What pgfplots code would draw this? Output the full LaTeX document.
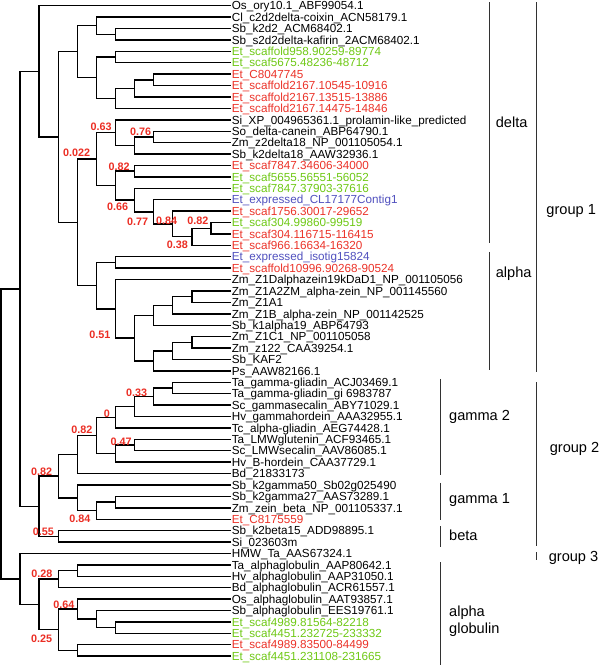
\documentclass[border=0pt]{standalone}
\usepackage{pgfplots}
\pgfplotsset{compat=1.18}
\usepackage{fontspec}
\setmainfont{Liberation Sans}
\definecolor{etred}{RGB}{235,50,40}
\definecolor{etgreen}{RGB}{110,200,20}
\definecolor{etblue}{RGB}{80,80,190}
\definecolor{bsred}{RGB}{235,45,35}
\definecolor{brk}{RGB}{50,50,50}
\tikzset{
  br/.style={black, line width=1.4bp, mark=none, line join=miter, line cap=rect},
  bk/.style={brk, line width=1bp, mark=none},
  leaf/.style={anchor=base west, inner sep=0pt, yshift=-4.2bp, font=\fontsize{11.7bp}{14bp}\selectfont},
  bs/.style={anchor=center, inner sep=0pt, text=bsred, font=\fontsize{10.8bp}{13bp}\selectfont\bfseries},
  grp/.style={anchor=base west, inner sep=0pt, yshift=-5.2bp, font=\fontsize{14.6bp}{17bp}\selectfont},
}
\begin{document}
\begin{tikzpicture}
\begin{axis}[
  scale only axis, width=600bp, height=665bp,
  xmin=0, xmax=600, ymin=-0.5, ymax=57.73, y dir=reverse,
  hide axis, clip=false,
]
\path (axis cs:0,-0.5) rectangle (axis cs:600,57.73);
% ---- delta
\addplot[br] coordinates {(230.2,2)(115.6,2)(115.6,3)(230.2,3)};
\addplot[br] coordinates {(230.2,1)(96.5,1)(96.5,2.5)(115.6,2.5)};
\addplot[br] coordinates {(230.2,4)(115.6,4)(115.6,5)(230.2,5)};
\addplot[br] coordinates {(230.2,6)(153.8,6)(153.8,7)(230.2,7)};
\addplot[br] coordinates {(153.8,6.5)(134.7,6.5)(134.7,8)(230.2,8)};
\addplot[br] coordinates {(134.7,7.25)(115.6,7.25)(115.6,9)(230.2,9)};
\addplot[br] coordinates {(115.6,4.5)(96.5,4.5)(96.5,8.125)(115.6,8.125)};
\addplot[br] coordinates {(96.5,1.75)(77.4,1.75)(77.4,6.3125)(96.5,6.3125)};
% ---- 0.022 clade
\addplot[br] coordinates {(230.2,11)(153.8,11)(153.8,12)(230.2,12)};
\addplot[br] coordinates {(153.8,11.5)(134.7,11.5)(134.7,13)(230.2,13)};
\addplot[br] coordinates {(230.2,10)(115.6,10)(115.6,12.25)(134.7,12.25)};
\addplot[br] coordinates {(230.2,14)(134.7,14)(134.7,15)(230.2,15)};
\addplot[br] coordinates {(230.2,19)(211.1,19)(211.1,20)(230.2,20)};
\addplot[br] coordinates {(211.1,19.5)(192.0,19.5)(192.0,21)(230.2,21)};
\addplot[br] coordinates {(230.2,18)(172.9,18)(172.9,20.25)(192.0,20.25)};
\addplot[br] coordinates {(230.2,17)(153.8,17)(153.8,19.125)(172.9,19.125)};
\addplot[br] coordinates {(230.2,16)(134.7,16)(134.7,18.0625)(153.8,18.0625)};
\addplot[br] coordinates {(134.7,14.5)(115.6,14.5)(115.6,17.03125)(134.7,17.03125)};
\addplot[br] coordinates {(115.6,11.125)(96.5,11.125)(96.5,15.765625)(115.6,15.765625)};
% ---- alpha
\addplot[br] coordinates {(230.2,22)(115.6,22)(115.6,23)(230.2,23)};
\addplot[br] coordinates {(230.2,25)(192.0,25)(192.0,26)(230.2,26)};
\addplot[br] coordinates {(192.0,25.5)(172.9,25.5)(172.9,27)(230.2,27)};
\addplot[br] coordinates {(172.9,26.25)(153.8,26.25)(153.8,28)(230.2,28)};
\addplot[br] coordinates {(230.2,29)(192.0,29)(192.0,30)(230.2,30)};
\addplot[br] coordinates {(192.0,29.5)(172.9,29.5)(172.9,31)(230.2,31)};
\addplot[br] coordinates {(172.9,30.25)(153.8,30.25)(153.8,32)(230.2,32)};
\addplot[br] coordinates {(153.8,27.125)(134.7,27.125)(134.7,31.125)(153.8,31.125)};
\addplot[br] coordinates {(230.2,24)(115.6,24)(115.6,29.125)(134.7,29.125)};
\addplot[br] coordinates {(115.6,22.5)(96.5,22.5)(96.5,26.5625)(115.6,26.5625)};
\addplot[br] coordinates {(96.5,13.4453)(77.4,13.4453)(77.4,24.53125)(96.5,24.53125)};
\addplot[br] coordinates {(77.4,4.03125)(58.3,4.03125)(58.3,18.98828)(77.4,18.98828)};
\addplot[br] coordinates {(230.2,0)(39.2,0)(39.2,11.50977)(58.3,11.50977)};
% ---- group 2
\addplot[br] coordinates {(230.2,33)(172.9,33)(172.9,34)(230.2,34)};
\addplot[br] coordinates {(172.9,33.5)(153.8,33.5)(153.8,35)(230.2,35)};
\addplot[br] coordinates {(153.8,34.25)(134.7,34.25)(134.7,36)(230.2,36)};
\addplot[br] coordinates {(134.7,35.125)(115.6,35.125)(115.6,37)(230.2,37)};
\addplot[br] coordinates {(230.2,38)(134.7,38)(134.7,39)(230.2,39)};
\addplot[br] coordinates {(134.7,38.5)(115.6,38.5)(115.6,40)(230.2,40)};
\addplot[br] coordinates {(115.6,36.0625)(96.5,36.0625)(96.5,39.25)(115.6,39.25)};
\addplot[br] coordinates {(96.5,37.65625)(77.4,37.65625)(77.4,41)(230.2,41)};
\addplot[br] coordinates {(230.2,43)(115.6,43)(115.6,44)(230.2,44)};
\addplot[br] coordinates {(115.6,43.5)(96.5,43.5)(96.5,45)(230.2,45)};
\addplot[br] coordinates {(230.2,42)(77.4,42)(77.4,44.25)(96.5,44.25)};
\addplot[br] coordinates {(77.4,39.328125)(58.3,39.328125)(58.3,43.125)(77.4,43.125)};
\addplot[br] coordinates {(230.2,46)(58.3,46)(58.3,47)(230.2,47)};
\addplot[br] coordinates {(58.3,41.2265625)(39.2,41.2265625)(39.2,46.5)(58.3,46.5)};
\addplot[br] coordinates {(39.2,5.75488)(20.1,5.75488)(20.1,43.86328)(39.2,43.86328)};
% ---- globulins
\addplot[br] coordinates {(230.2,49)(77.4,49)(77.4,50)(230.2,50)};
\addplot[br] coordinates {(77.4,49.5)(58.3,49.5)(58.3,51)(230.2,51)};
\addplot[br] coordinates {(230.2,54)(115.6,54)(115.6,55)(230.2,55)};
\addplot[br] coordinates {(230.2,53)(96.5,53)(96.5,54.5)(115.6,54.5)};
\addplot[br] coordinates {(230.2,52)(77.4,52)(77.4,53.75)(96.5,53.75)};
\addplot[br] coordinates {(230.2,56)(77.4,56)(77.4,57)(230.2,57)};
\addplot[br] coordinates {(77.4,52.875)(58.3,52.875)(58.3,56.5)(77.4,56.5)};
\addplot[br] coordinates {(58.3,50.25)(39.2,50.25)(39.2,54.6875)(58.3,54.6875)};
\addplot[br] coordinates {(230.2,48)(20.1,48)(20.1,52.46875)(39.2,52.46875)};
\addplot[br] coordinates {(20.1,24.80908)(1.2,24.80908)(1.2,50.234375)(20.1,50.234375)};
% ---- brackets
\addplot[bk] coordinates {(490,-0.32)(490,20.78)};
\addplot[bk] coordinates {(490,21.57)(490,31.9)};
\addplot[bk] coordinates {(536.7,-0.32)(536.7,32.14)};
\addplot[bk] coordinates {(441.3,32.71)(441.3,41.16)};
\addplot[bk] coordinates {(441.3,41.82)(441.3,45.04)};
\addplot[bk] coordinates {(441.3,45.62)(441.3,47.43)};
\addplot[bk] coordinates {(441.3,48.77)(441.3,57.73)};
\addplot[bk] coordinates {(536.7,33.01)(536.7,47.37)};
\addplot[bk] coordinates {(536.7,47.9)(536.7,48.6)};
\node[grp] at (axis cs:496,10.25) {delta};
\node[grp] at (axis cs:496,23.32) {alpha};
\node[grp] at (axis cs:546.7,17.8) {group 1};
\node[grp] at (axis cs:449.3,35.93) {gamma 2};
\node[grp] at (axis cs:449.3,43.13) {gamma 1};
\node[grp] at (axis cs:449.3,46.44) {beta};
\node[grp] at (axis cs:449.3,53.07) {alpha};
\node[grp] at (axis cs:449.3,54.6) {globulin};
\node[grp] at (axis cs:550,38.67) {group 2};
\node[grp] at (axis cs:549,48.25) {group 3};
% ---- bootstrap values
\node[bs] at (axis cs:101.2,10.65) {0.63};
\node[bs] at (axis cs:140.8,11.09) {0.76};
\node[bs] at (axis cs:76.7,12.87) {0.022};
\node[bs] at (axis cs:119.3,14.10) {0.82};
\node[bs] at (axis cs:117.8,17.65) {0.66};
\node[bs] at (axis cs:137.8,18.97) {0.77};
\node[bs] at (axis cs:166.7,18.85) {0.84};
\node[bs] at (axis cs:198,18.85) {0.82};
\node[bs] at (axis cs:177.5,20.95) {0.38};
\node[bs] at (axis cs:100,28.84) {0.51};
\node[bs] at (axis cs:136.7,33.89) {0.33};
\node[bs] at (axis cs:107,35.78) {0};
\node[bs] at (axis cs:82,37.15) {0.82};
\node[bs] at (axis cs:121.2,38.18) {0.47};
\node[bs] at (axis cs:41.7,40.81) {0.82};
\node[bs] at (axis cs:80,44.97) {0.84};
\node[bs] at (axis cs:43.3,46.06) {0.55};
\node[bs] at (axis cs:42,49.76) {0.28};
\node[bs] at (axis cs:64,52.48) {0.64};
\node[bs] at (axis cs:41.7,55.48) {0.25};
% ---- leaf labels
\node[leaf] at (axis cs:231.8,0) {Os\_ory10.1\_ABF99054.1};
\node[leaf] at (axis cs:231.8,1) {Cl\_c2d2delta-coixin\_ACN58179.1};
\node[leaf] at (axis cs:231.8,2) {Sb\_k2d2\_ACM68402.1};
\node[leaf] at (axis cs:231.8,3) {Sb\_s2d2delta-kafirin\_2ACM68402.1};
\node[leaf,text=etgreen] at (axis cs:231.8,4) {Et\_scaffold958.90259-89774};
\node[leaf,text=etgreen] at (axis cs:231.8,5) {Et\_scaf5675.48236-48712};
\node[leaf,text=etred] at (axis cs:231.8,6) {Et\_C8047745};
\node[leaf,text=etred] at (axis cs:231.8,7) {Et\_scaffold2167.10545-10916};
\node[leaf,text=etred] at (axis cs:231.8,8) {Et\_scaffold2167.13515-13886};
\node[leaf,text=etred] at (axis cs:231.8,9) {Et\_scaffold2167.14475-14846};
\node[leaf] at (axis cs:231.8,10) {Si\_XP\_004965361.1\_prolamin-like\_predicted};
\node[leaf] at (axis cs:231.8,11) {So\_delta-canein\_ABP64790.1};
\node[leaf] at (axis cs:231.8,12) {Zm\_z2delta18\_NP\_001105054.1};
\node[leaf] at (axis cs:231.8,13) {Sb\_k2delta18\_AAW32936.1};
\node[leaf,text=etred] at (axis cs:231.8,14) {Et\_scaf7847.34606-34000};
\node[leaf,text=etgreen] at (axis cs:231.8,15) {Et\_scaf5655.56551-56052};
\node[leaf,text=etgreen] at (axis cs:231.8,16) {Et\_scaf7847.37903-37616};
\node[leaf,text=etblue] at (axis cs:231.8,17) {Et\_expressed\_CL17177Contig1};
\node[leaf,text=etred] at (axis cs:231.8,18) {Et\_scaf1756.30017-29652};
\node[leaf,text=etgreen] at (axis cs:231.8,19) {Et\_scaf304.99860-99519};
\node[leaf,text=etred] at (axis cs:231.8,20) {Et\_scaf304.116715-116415};
\node[leaf,text=etred] at (axis cs:231.8,21) {Et\_scaf966.16634-16320};
\node[leaf,text=etblue] at (axis cs:231.8,22) {Et\_expressed\_isotig15824};
\node[leaf,text=etred] at (axis cs:231.8,23) {Et\_scaffold10996.90268-90524};
\node[leaf] at (axis cs:231.8,24) {Zm\_Z1Dalphazein19kDaD1\_NP\_001105056};
\node[leaf] at (axis cs:231.8,25) {Zm\_Z1A2ZM\_alpha-zein\_NP\_001145560};
\node[leaf] at (axis cs:231.8,26) {Zm\_Z1A1};
\node[leaf] at (axis cs:231.8,27) {Zm\_Z1B\_alpha-zein\_NP\_001142525};
\node[leaf] at (axis cs:231.8,28) {Sb\_k1alpha19\_ABP64793};
\node[leaf] at (axis cs:231.8,29) {Zm\_Z1C1\_NP\_001105058};
\node[leaf] at (axis cs:231.8,30) {Zm\_z122\_CAA39254.1};
\node[leaf] at (axis cs:231.8,31) {Sb\_KAF2};
\node[leaf] at (axis cs:231.8,32) {Ps\_AAW82166.1};
\node[leaf] at (axis cs:231.8,33) {Ta\_gamma-gliadin\_ACJ03469.1};
\node[leaf] at (axis cs:231.8,34) {Ta\_gamma-gliadin\_gi 6983787};
\node[leaf] at (axis cs:231.8,35) {Sc\_gammasecalin\_ABY71029.1};
\node[leaf] at (axis cs:231.8,36) {Hv\_gammahordein\_AAA32955.1};
\node[leaf] at (axis cs:231.8,37) {Tc\_alpha-gliadin\_AEG74428.1};
\node[leaf] at (axis cs:231.8,38) {Ta\_LMWglutenin\_ACF93465.1};
\node[leaf] at (axis cs:231.8,39) {Sc\_LMWsecalin\_AAV86085.1};
\node[leaf] at (axis cs:231.8,40) {Hv\_B-hordein\_CAA37729.1};
\node[leaf] at (axis cs:231.8,41) {Bd\_21833173};
\node[leaf] at (axis cs:231.8,42) {Sb\_k2gamma50\_Sb02g025490};
\node[leaf] at (axis cs:231.8,43) {Sb\_k2gamma27\_AAS73289.1};
\node[leaf] at (axis cs:231.8,44) {Zm\_zein\_beta\_NP\_001105337.1};
\node[leaf,text=etred] at (axis cs:231.8,45) {Et\_C8175559};
\node[leaf] at (axis cs:231.8,46) {Sb\_k2beta15\_ADD98895.1};
\node[leaf] at (axis cs:231.8,47) {Si\_023603m};
\node[leaf] at (axis cs:231.8,48) {HMW\_Ta\_AAS67324.1};
\node[leaf] at (axis cs:231.8,49) {Ta\_alphaglobulin\_AAP80642.1};
\node[leaf] at (axis cs:231.8,50) {Hv\_alphaglobulin\_AAP31050.1};
\node[leaf] at (axis cs:231.8,51) {Bd\_alphaglobulin\_ACR61557.1};
\node[leaf] at (axis cs:231.8,52) {Os\_alphaglobulin\_AAT93857.1};
\node[leaf] at (axis cs:231.8,53) {Sb\_alphaglobulin\_EES19761.1};
\node[leaf,text=etgreen] at (axis cs:231.8,54) {Et\_scaf4989.81564-82218};
\node[leaf,text=etgreen] at (axis cs:231.8,55) {Et\_scaf4451.232725-233332};
\node[leaf,text=etred] at (axis cs:231.8,56) {Et\_scaf4989.83500-84499};
\node[leaf,text=etgreen] at (axis cs:231.8,57) {Et\_scaf4451.231108-231665};
\end{axis}
\end{tikzpicture}
\end{document}
